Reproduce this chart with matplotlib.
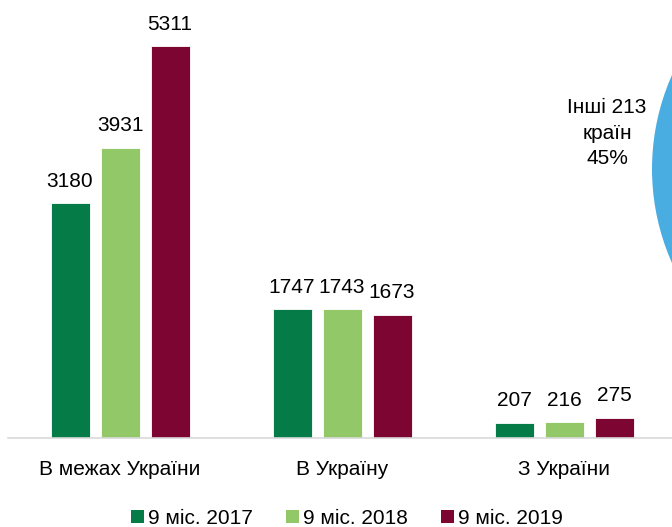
import numpy as np
import matplotlib.pyplot as plt
from matplotlib.patches import Patch

plt.rcParams['font.family'] = ['Liberation Sans', 'DejaVu Sans']

categories = ["В межах України", "В Україну", "З України"]
series = ["9 міс. 2017", "9 міс. 2018", "9 міс. 2019"]
v2017 = [3180, 1747, 207]
v2018 = [3931, 1743, 216]
v2019 = [5311, 1673, 275]
colors = ["#057c47", "#93c868", "#7d0532"]

pie_label = "Інші 213\nкраїн\n45%"
pie_share = [45, 55]
pie_colors = ["#4aade2", "#1f5f8f"]

fig = plt.figure(figsize=(6.72, 5.27), dpi=100)

# bar chart
ax = fig.add_axes([8 / 672, 89 / 527, 664 / 672, 420 / 527])
x = np.arange(len(categories))
offset = 50 / 222
width = 39 / 222
for i, (vals, c) in enumerate(zip([v2017, v2018, v2019], colors)):
    bars = ax.bar(x + (i - 1) * offset, vals, width, color=c, edgecolor="white", linewidth=0.6)
    ax.bar_label(bars, padding=9, fontsize=15)

ax.set_xlim(-112 / 222, 2 + 108 / 222)
ax.set_ylim(0, 420 / 0.0738)
for s in ["top", "right", "left"]:
    ax.spines[s].set_visible(False)
ax.spines["bottom"].set_color("#d9d9d9")
ax.spines["bottom"].set_linewidth(1.2)
ax.set_yticks([])
ax.set_xticks(x)
ax.set_xticklabels(categories, fontsize=15)
ax.tick_params(axis="x", length=0, pad=16)

# partly visible pie on the right
pax = fig.add_axes([652 / 672, 127 / 527, 462 / 672, 462 / 527])
pax.pie(pie_share, colors=pie_colors, startangle=99, counterclock=True, radius=1)
pax.set_xlim(-1, 1)
pax.set_ylim(-1, 1)
pax.set_aspect("equal")
pax.set_axis_off()
fig.text(607 / 672, 1 - 133 / 527, pie_label, ha="center", va="center",
         fontsize=15, linespacing=1.45)

handles = [Patch(facecolor=c, edgecolor="none") for c in colors]
fig.legend(handles, series, loc="center", bbox_to_anchor=(347 / 672, 9 / 527),
           ncol=3, frameon=False, fontsize=15, handlelength=0.6, handleheight=0.6,
           handletextpad=0.2, columnspacing=1.6)

fig.savefig("out.png", dpi=100)
